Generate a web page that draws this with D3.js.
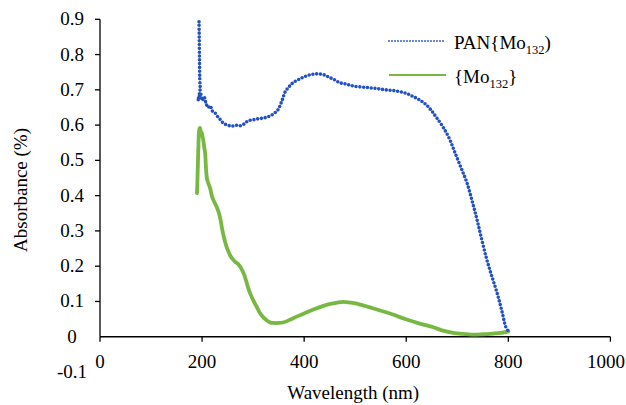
<!DOCTYPE html>
<html>
<head>
<meta charset="utf-8">
<script src="https://cdn.jsdelivr.net/npm/d3@7"></script>
<style>
  html, body { margin: 0; padding: 0; background: #fff; }
  svg { display: block; }
</style>
</head>
<body>
<svg id="chart" width="626" height="405"></svg>
<script>
// UV-Vis absorbance spectra
const panWavelength = [194, 194.5, 195, 195.5, 196, 192, 197, 200, 204, 208, 212, 216, 220, 225, 230, 236, 242, 250, 258, 266, 274, 282, 290, 300, 310, 320, 330, 340, 348, 354, 358, 363, 370, 378, 390, 400, 410, 420, 430, 440, 450, 460, 470, 480, 490, 500, 520, 540, 560, 580, 600, 615, 630, 641, 650, 660, 672, 685, 696, 708, 719, 730, 739, 748, 758, 768, 778, 787, 795, 799];
const panAbsorbance = [0.893, 0.84, 0.78, 0.73, 0.70, 0.67, 0.69, 0.67, 0.68, 0.66, 0.65, 0.655, 0.64, 0.635, 0.625, 0.615, 0.605, 0.60, 0.597, 0.60, 0.598, 0.603, 0.612, 0.615, 0.618, 0.62, 0.624, 0.632, 0.642, 0.66, 0.675, 0.695, 0.708, 0.72, 0.73, 0.737, 0.742, 0.745, 0.745, 0.742, 0.735, 0.728, 0.72, 0.717, 0.713, 0.71, 0.707, 0.704, 0.70, 0.697, 0.69, 0.68, 0.668, 0.655, 0.64, 0.62, 0.595, 0.56, 0.52, 0.477, 0.436, 0.38, 0.33, 0.275, 0.218, 0.17, 0.124, 0.075, 0.028, 0.018];

const moWavelength = [190, 191, 192, 193, 194, 195, 196, 197, 198, 199, 200, 202, 204, 206, 208, 210, 213, 216, 220, 224, 228, 232, 236, 240, 244, 248, 252, 256, 260, 265, 270, 274, 278, 282, 286, 290, 295, 300, 307, 313, 320, 327, 334, 340, 350, 360, 372, 385, 400, 418, 435, 451, 465, 477, 490, 503, 520, 536, 552, 568, 585, 601, 620, 640, 653, 670, 692, 710, 731, 750, 770, 785, 797, 800];
const moAbsorbance = [0.407, 0.45, 0.50, 0.55, 0.58, 0.59, 0.592, 0.585, 0.575, 0.58, 0.575, 0.56, 0.54, 0.52, 0.47, 0.445, 0.432, 0.42, 0.395, 0.382, 0.37, 0.355, 0.333, 0.30, 0.275, 0.255, 0.24, 0.228, 0.22, 0.212, 0.207, 0.20, 0.19, 0.178, 0.16, 0.14, 0.12, 0.104, 0.085, 0.068, 0.055, 0.046, 0.04, 0.039, 0.039, 0.041, 0.048, 0.057, 0.066, 0.077, 0.086, 0.093, 0.097, 0.099, 0.097, 0.094, 0.087, 0.08, 0.073, 0.066, 0.057, 0.049, 0.04, 0.032, 0.027, 0.018, 0.011, 0.008, 0.006, 0.007, 0.009, 0.011, 0.014, 0.015];

const xTickValues = [0, 200, 400, 600, 800, 1000];
const yTickValues = [-0.1, 0, 0.1, 0.2, 0.3, 0.4, 0.5, 0.6, 0.7, 0.8, 0.9];
const yTickLabels = ["-0.1", "0", "0.1", "0.2", "0.3", "0.4", "0.5", "0.6", "0.7", "0.8", "0.9"];

const seriesNames = ["PAN{Mo", "{Mo"];
const subscript = "132";
const colors = ["#2451c2", "#77b843"];

const FONT = "'Liberation Serif'";
const TEXT_SIZE = 19;

const svg = d3.select("#chart");

// Serif text label at (x, y); centred labels are shifted by their measured width
function label(parent, x, y, str, size, centred, rot) {
  const t = parent.append("text")
    .attr("x", 0).attr("y", 0)
    .attr("transform", `translate(${x},${y}) rotate(${rot || 0})`)
    .style("font-family", FONT)
    .style("font-size", size + "px");
  if (str !== null) t.append("tspan").text(str);
  if (centred) {
    const w = t.node().getComputedTextLength();
    t.select("tspan").attr("x", -w / 2);
  }
  return t;
}

const x = d3.scaleLinear().domain([0, 1000]).range([100, 610.4]);
const y = d3.scaleLinear().domain([-0.1, 0.9]).range([372, 19.3]);

// Horizontal axis crossing at zero, labels placed low
const gx = svg.append("g");
gx.append("line")
  .attr("x1", x(0)).attr("x2", x(1000))
  .attr("y1", y(0)).attr("y2", y(0))
  .attr("stroke", "#000").attr("stroke-width", 1.3);
gx.selectAll("line.tick").data(xTickValues).join("line")
  .attr("class", "tick")
  .attr("x1", d => x(d)).attr("x2", d => x(d))
  .attr("y1", y(0)).attr("y2", y(0) + 5)
  .attr("stroke", "#000").attr("stroke-width", 1.3);
xTickValues.forEach(d => {
  label(gx, Math.min(x(d), 606), 368, String(d), TEXT_SIZE, true);
});

// Vertical axis
const gy = svg.append("g");
gy.append("line")
  .attr("x1", x(0)).attr("x2", x(0))
  .attr("y1", y(0.9)).attr("y2", y(0))
  .attr("stroke", "#000").attr("stroke-width", 1.3);
gy.selectAll("line.tick").data(yTickValues.filter(d => d > 0)).join("line")
  .attr("class", "tick")
  .attr("x1", x(0) - 5).attr("x2", x(0))
  .attr("y1", d => y(d)).attr("y2", d => y(d))
  .attr("stroke", "#000").attr("stroke-width", 1.3);
yTickValues.forEach((d, i) => {
  label(gy, 72, y(d) + 6, yTickLabels[i], TEXT_SIZE, true);
});

// Axis titles
label(svg, (x(0) + x(1000)) / 2 - 2, 399, "Wavelength (nm)", TEXT_SIZE, true);
label(svg, 27, 190, "Absorbance (%)", TEXT_SIZE, true, -90);

// Spectra
const panData = panWavelength.map((w, i) => [w, panAbsorbance[i]]);
const moData = moWavelength.map((w, i) => [w, moAbsorbance[i]]);

const line = d3.line()
  .x(d => x(d[0]))
  .y(d => y(d[1]))
  .curve(d3.curveCatmullRom.alpha(0.5));

svg.append("path")
  .datum(moData)
  .attr("d", line)
  .attr("fill", "none")
  .attr("stroke", colors[1])
  .attr("stroke-width", 3.8)
  .attr("stroke-linejoin", "round")
  .attr("stroke-linecap", "round");

svg.append("path")
  .datum(panData)
  .attr("d", line)
  .attr("fill", "none")
  .attr("stroke", colors[0])
  .attr("stroke-width", 3.6)
  .attr("stroke-dasharray", "0 3.8")
  .attr("stroke-linecap", "round");

// Legend
const legendRows = [
  { y: 41, text: seriesNames[0], close: ")", color: colors[0], dash: "0 3", width: 1.8 },
  { y: 75, text: seriesNames[1], close: "}", color: colors[1], dash: null, width: 2.2 }
];
const legend = svg.append("g");
legendRows.forEach(r => {
  const ln = legend.append("line")
    .attr("x1", 389).attr("x2", 446)
    .attr("y1", r.y).attr("y2", r.y)
    .attr("stroke", r.color)
    .attr("stroke-width", r.width);
  if (r.dash) ln.attr("stroke-dasharray", r.dash).attr("stroke-linecap", "round");
  const t = label(legend, 454, r.y + 8, null, TEXT_SIZE, false);
  t.append("tspan").text(r.text);
  t.append("tspan").style("font-size", "12.5px").attr("dy", 5).text(subscript);
  t.append("tspan").attr("dy", -5).text(r.close);
});
</script>
</body>
</html>
